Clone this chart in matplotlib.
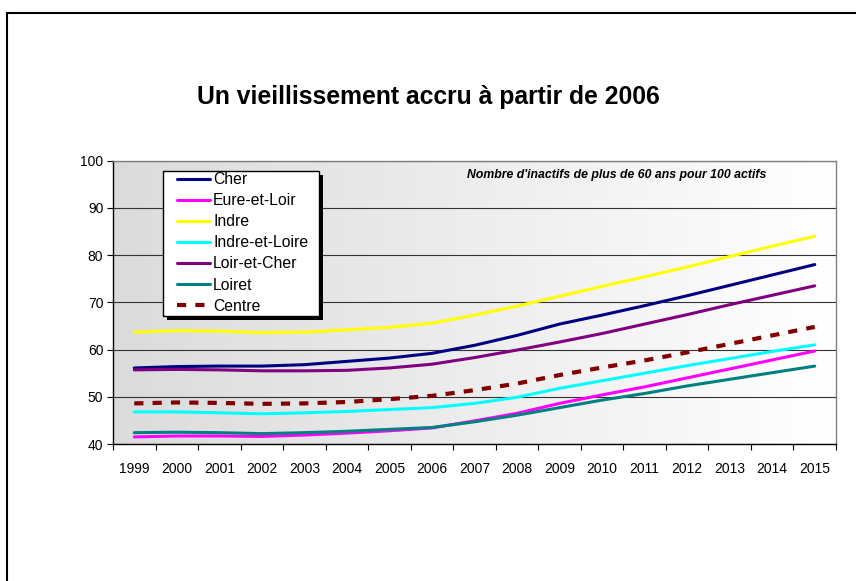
import numpy as np
import matplotlib
matplotlib.use("Agg")
import matplotlib.pyplot as plt
from matplotlib.patches import Rectangle

years = [str(y) for y in range(1999, 2016)]
cher = [56.1, 56.4, 56.5, 56.5, 56.8, 57.5, 58.2, 59.2, 60.9, 63.0, 65.4, 67.3, 69.3, 71.4, 73.6, 75.8, 78.0]
eure = [41.5, 41.7, 41.7, 41.6, 41.9, 42.3, 42.8, 43.4, 44.9, 46.5, 48.6, 50.4, 52.1, 54.0, 55.9, 57.8, 59.7]
indre = [63.7, 64.0, 63.9, 63.6, 63.7, 64.2, 64.7, 65.6, 67.3, 69.2, 71.3, 73.4, 75.4, 77.5, 79.7, 81.9, 84.0]
indre_loire = [46.8, 46.8, 46.6, 46.4, 46.6, 46.9, 47.3, 47.7, 48.6, 49.9, 51.8, 53.4, 55.0, 56.6, 58.1, 59.6, 61.0]
loir_cher = [55.7, 55.8, 55.7, 55.5, 55.5, 55.6, 56.1, 56.9, 58.3, 59.9, 61.6, 63.4, 65.4, 67.4, 69.5, 71.5, 73.5]
loiret = [42.4, 42.5, 42.4, 42.2, 42.4, 42.7, 43.1, 43.5, 44.7, 46.1, 47.7, 49.3, 50.7, 52.3, 53.7, 55.1, 56.5]
centre = [48.6, 48.8, 48.7, 48.5, 48.6, 48.9, 49.5, 50.2, 51.4, 52.8, 54.6, 56.2, 57.7, 59.4, 61.2, 63.0, 64.8]

series = [
    ("Cher", cher, "#000080", "-"),
    ("Eure-et-Loir", eure, "#FF00FF", "-"),
    ("Indre", indre, "#FFFF00", "-"),
    ("Indre-et-Loire", indre_loire, "#00FFFF", "-"),
    ("Loir-et-Cher", loir_cher, "#800080", "-"),
    ("Loiret", loiret, "#008080", "-"),
    ("Centre", centre, "#800000", (0, (2.2, 2.2))),
]

plt.rcParams['font.family'] = ['Liberation Sans', 'DejaVu Sans']

W, H = 856, 581
fig = plt.figure(figsize=(W / 100, H / 100), dpi=100)
fig.patch.set_facecolor("white")

# outer border
fig.patches.append(Rectangle((6.5 / W, -0.1), 1.2, 1 - 13 / H + 0.1, transform=fig.transFigure,
                             fill=False, edgecolor="black", linewidth=1.5, zorder=0))

ax = fig.add_axes([113 / W, 1 - 444 / H, (836 - 113) / W, (444 - 160.7) / H])

# gradient background
grad = np.linspace(0.86, 1.0, 256).reshape(1, -1)
ax.imshow(np.dstack([grad, grad, grad]), extent=[-0.5, 16.5, 40, 100], aspect="auto",
          zorder=0, interpolation="bicubic")

x = np.arange(len(years))
handles = []
for name, vals, col, ls in series:
    lw = 3.0 if name == "Centre" else 2.2
    h, = ax.plot(x, vals, color=col, linestyle=ls, linewidth=lw, label=name, zorder=3,
                 solid_capstyle="round", dash_capstyle="butt")
    handles.append(h)

ax.set_xlim(-0.5, 16.5)
ax.set_ylim(40, 100)
ax.set_yticks(range(40, 101, 10))
ax.yaxis.grid(True, color="#333333", linewidth=0.8)
ax.set_axisbelow(True)
for gl in ax.get_ygridlines():
    gl.set_zorder(1)

ax.set_xticks(np.arange(-0.5, 17, 1))
ax.set_xticklabels([])
ax.set_xticks(x, minor=True)
ax.set_xticklabels(years, minor=True)
ax.tick_params(axis="x", which="major", direction="out", length=4, width=0.8, color="black")
ax.tick_params(axis="x", which="minor", length=0, pad=13, labelsize=10)
ax.tick_params(axis="y", direction="out", length=4, width=0.8, labelsize=10, pad=3)

ax.spines["left"].set_color("black")
ax.spines["bottom"].set_color("black")
ax.spines["top"].set_color("#808080")
ax.spines["right"].set_color("#808080")
for s in ax.spines.values():
    s.set_linewidth(1.0)

# legend frame with black shadow
lx0, lx1, ly0, ly1 = 163, 319, 170.7, 315.7
fig.patches.append(Rectangle(((lx0 + 4) / W, 1 - (ly1 + 4) / H), (lx1 - lx0) / W, (ly1 - ly0) / H,
                             transform=fig.transFigure, facecolor="black", edgecolor="none", zorder=4))
fig.patches.append(Rectangle((lx0 / W, 1 - ly1 / H), (lx1 - lx0) / W, (ly1 - ly0) / H,
                             transform=fig.transFigure, facecolor="white", edgecolor="black",
                             linewidth=1.0, zorder=4.5))

leg = fig.legend(handles=handles, labels=[s[0] for s in series],
                 loc="upper left", bbox_to_anchor=(177 / W, 1 - 172 / H),
                 bbox_transform=fig.transFigure, borderaxespad=0, borderpad=0,
                 frameon=False, fontsize=11.3, handlelength=2.1, handletextpad=0.2,
                 labelspacing=0.39)
leg.set_zorder(6)

fig.text(428 / W, 1 - 97 / H, "Un vieillissement accru à partir de 2006", ha="center",
         va="center", fontsize=17.8, fontweight="bold")
fig.text(617 / W, 1 - 175 / H, "Nombre d'inactifs de plus de 60 ans pour 100 actifs",
         ha="center", va="center", fontsize=8.8, fontweight="bold", fontstyle="italic", zorder=6)

fig.savefig("out.png", dpi=100)
